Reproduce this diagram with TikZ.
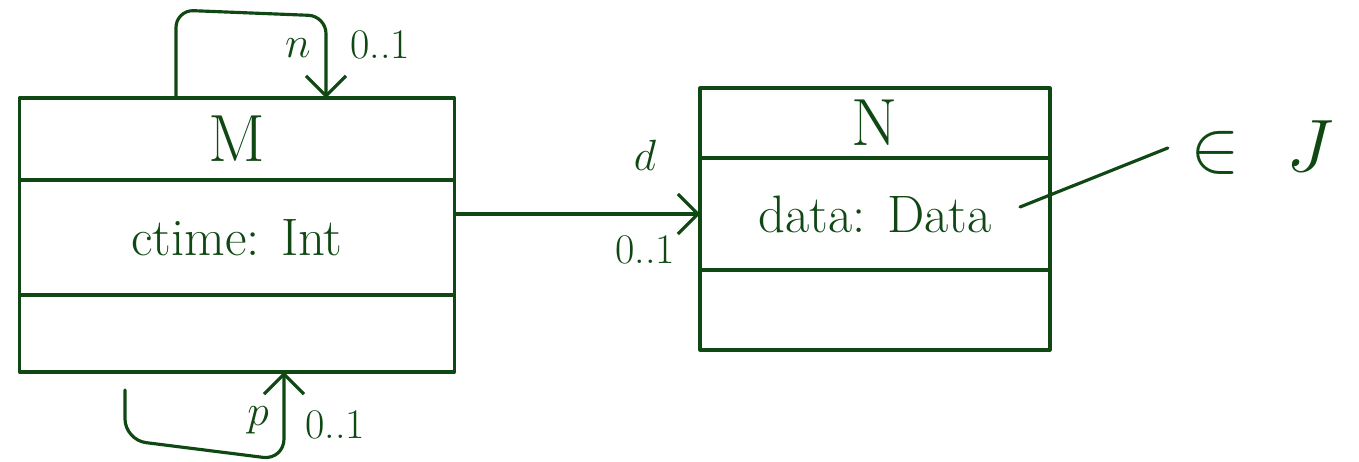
\documentclass[tikz,border=0pt]{standalone}
\usepackage{tikz}
\usetikzlibrary{positioning, arrows.meta}
\definecolor{ink}{RGB}{16,72,20}

\begin{document}
\begin{tikzpicture}[x=0.02cm, y=-0.02cm, >={Straight Barb[length=4mm,width=8mm]},
          ink, line width=1.8pt, line cap=round, line join=round,
          part/.style={draw, rectangle, inner sep=0pt, outer sep=0pt, font=\fontsize{30}{32}\selectfont},
          title/.style={part, font=\fontsize{38}{40}\selectfont},
          mult/.style={font=\fontsize{24}{26}\selectfont, inner sep=1pt}
        ]
        \useasboundingbox (0,0) rectangle (1359,462);

        % clase M
        \node[title, minimum width=8.7cm, minimum height=1.64cm] (Mname) at (237,139) {M};
        \node[part, minimum width=8.7cm, minimum height=2.3cm, below=0pt of Mname] (Mattr) {ctime: Int};
        \node[part, minimum width=8.7cm, minimum height=1.54cm, below=0pt of Mattr] (Mops) {};

        % clase N
        \node[title, minimum width=7cm, minimum height=1.4cm] (Nname) at (875,123) {N};
        \node[part, minimum width=7cm, minimum height=2.24cm, below=0pt of Nname] (Nattr) {data: Data};
        \node[part, minimum width=7cm, minimum height=1.6cm, below=0pt of Nattr] (Nops) {};

        % asociacion M -> N
        \draw[->] (Nattr.west -| Mattr.east) -- (Nattr.west);
        \node[mult] (drole) at (645,155) {$d$};
        \node[mult] (dmult) at (645,250) {0..1};

        % restriccion
        \node[mult, inner sep=12pt] (inJ) at (1262,148) {\scalebox{1.7}{$\in$}\hspace{1.1em}\scalebox{1.7}{$J$}};
        \coordinate (cfoot) at (1020,207);
        \draw (cfoot) -- (inJ.west);

        % lazo superior: n
        \coordinate (topL) at (176,10);
        \coordinate (topR) at (326,16);
        \draw[->, rounded corners=10pt] (Mname.north -| topL) -- (topL) -- (topR) -- (Mname.north -| topR);
        \node[mult] (nrole) at (298,48) {$n$};
        \node[mult] (nmult) at (380,45) {0..1};

        % lazo inferior: p
        \coordinate (botA) at (125,390);
        \coordinate (botB) at (125,440);
        \coordinate (botC) at (284,460);
        \draw[->, rounded corners=12pt] (botA) -- (botB) -- (botC) -- (Mops.south -| botC);
        \node[mult] (prole) at (258,420) {$p$};
        \node[mult] (pmult) at (335,425) {0..1};
      \end{tikzpicture}
\end{document}
